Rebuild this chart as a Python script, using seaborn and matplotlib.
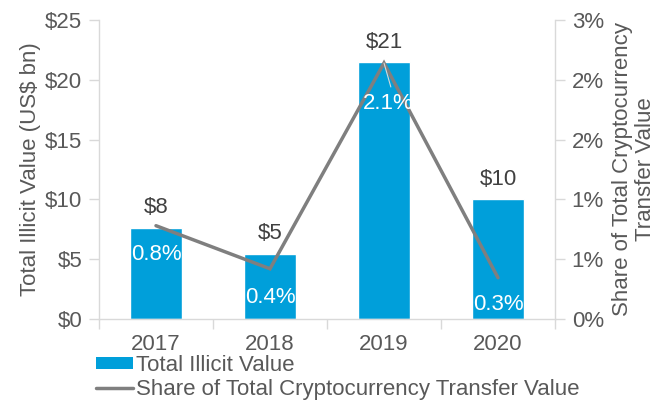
import math
import matplotlib
matplotlib.use("Agg")
import matplotlib.pyplot as plt
from matplotlib.patches import Patch
from matplotlib.lines import Line2D
from matplotlib.ticker import FixedLocator, FuncFormatter
import seaborn as sns
import pandas as pd

years = ["2017", "2018", "2019", "2020"]
illicit_value = [7.63, 5.43, 21.46, 10.0]      # US$ bn
share_pct = [0.78, 0.42, 2.14, 0.345]          # % of total transfer value

bar_color = "#009FDA"
line_color = "#7F7F7F"
axis_color = "#D9D9D9"
text_color = "#595959"
label_dark = "#404040"
FS = 16

sns.set_theme(style="white")
plt.rcParams["font.family"] = ["Liberation Sans", "DejaVu Sans"]

df = pd.DataFrame({"year": years, "value": illicit_value, "share": share_pct})

fig = plt.figure(figsize=(6.7, 4.04), dpi=100)
ax = fig.add_axes([99 / 670, 1 - 319 / 404, (555 - 99) / 670, (319 - 20) / 404])

sns.barplot(data=df, x="year", y="value", color=bar_color, width=0.455,
            saturation=1, ax=ax)
ax.set_xlim(-0.5, 3.5)
ax.set_ylim(0, 25)
ax.set_yticks(range(0, 26, 5))
ax.yaxis.set_major_formatter(FuncFormatter(lambda v, p: f"${v:.0f}"))
ax.set_xlabel("")
ax.set_ylabel("Total Illicit Value (US$ bn)", fontsize=FS, color=text_color, labelpad=3)

ax2 = ax.twinx()
ax2.set_position(ax.get_position())
sns.lineplot(x=list(range(len(years))), y=share_pct, ax=ax2, color=line_color,
             linewidth=2.5, solid_joinstyle="miter")
ax2.set_xlim(-0.5, 3.5)
ax2.set_ylim(0, 2.5)
ax2.set_yticks([0, 0.5, 1.0, 1.5, 2.0, 2.5])
ax2.yaxis.set_major_formatter(
    FuncFormatter(lambda v, p: f"{math.floor(v + 0.5 + 1e-9)}%"))
ax2.set_ylabel("Share of Total Cryptocurrency\nTransfer Value", fontsize=FS,
               color=text_color, labelpad=6, linespacing=1.1)

# spines and ticks
for a in (ax, ax2):
    a.spines["top"].set_visible(False)
    for s in ("left", "right", "bottom"):
        a.spines[s].set_color(axis_color)
        a.spines[s].set_linewidth(1.0)
ax.spines["right"].set_visible(False)
ax2.spines["left"].set_visible(False)
ax2.spines["bottom"].set_visible(False)

ax.tick_params(axis="y", which="major", length=7, width=1, color=axis_color,
               labelsize=FS, labelcolor=text_color, pad=5, left=True)
ax2.tick_params(axis="y", which="major", length=7, width=1, color=axis_color,
                labelsize=FS, labelcolor=text_color, pad=5, right=True)
ax.xaxis.set_minor_locator(FixedLocator([-0.5, 0.5, 1.5, 2.5, 3.5]))
ax.tick_params(axis="x", which="major", length=0, labelsize=FS,
               labelcolor=text_color, pad=11)
ax.tick_params(axis="x", which="minor", length=7, width=1, color=axis_color,
               bottom=True)

# value labels above bars
for i, v in enumerate(illicit_value):
    ax.annotate(f"${v:.0f}", (i, v), xytext=(0, 14.5), textcoords="offset points",
                ha="center", va="center", fontsize=FS, color=label_dark)

# share labels
offsets = [(0, -21), (0, -21), (3, -29), (0, -19.5)]
for i, (s, off) in enumerate(zip(share_pct, offsets)):
    ax2.annotate(f"{s:.1f}%", (i, s), xytext=off, textcoords="offset points",
                 ha="center", va="center", fontsize=FS, color="white")
# leader line for the 2019 label
ax2.annotate("", (2, share_pct[2]), xytext=(2 + 0.06, share_pct[2] - 0.2),
             arrowprops=dict(arrowstyle="-", color="#D8D8D8", lw=0.8,
                             shrinkA=0, shrinkB=0))

handles = [Patch(facecolor=bar_color, edgecolor="none"),
           Line2D([0], [0], color=line_color, linewidth=2.5)]
fig.legend(handles, ["Total Illicit Value", "Share of Total Cryptocurrency Transfer Value"],
           loc="upper left", bbox_to_anchor=(96 / 670, 1 - 355 / 404),
           frameon=False, fontsize=FS, labelcolor=text_color,
           handlelength=1.65, handleheight=0.45, handletextpad=0.15,
           labelspacing=0.15, borderpad=0, borderaxespad=0)

fig.savefig("out.png", dpi=100)
